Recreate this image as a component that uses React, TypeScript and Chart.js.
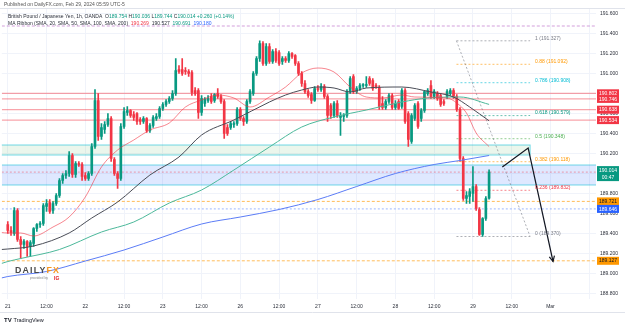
import React, { useEffect, useRef } from 'react';
import { Chart, registerables } from 'chart.js';

Chart.register(...registerables);

const FONT = '"Liberation Sans", Arial, sans-serif';
const UP = '#089981';
const DOWN = '#f23645';
const TEXT = '#2a2e39';
const GRID = '#f0f3fa';

// Hourly candles, bar index 0 = Feb 21 00:00 (weekend gap removed)
const opens = [
  189.49, 189.43, 189.40, 189.63, 189.34, 189.29, 189.32, 189.27, 189.30, 189.45,
  189.49, 189.50, 189.67, 189.71, 189.63, 189.70, 189.78, 189.93, 189.98, 190.00,
  190.18, 189.99, 190.10, 190.09, 189.98, 189.95, 190.00, 190.27, 190.73, 190.37,
  190.44, 190.49, 190.55, 190.14, 190.00, 189.95, 190.47, 190.61, 190.63, 190.59,
  190.60, 190.54, 190.52, 190.55, 190.43, 190.48, 190.55, 190.57, 190.65, 190.69,
  190.72, 190.75, 190.80, 191.04, 191.04, 191.03, 191.02, 191.01, 190.83, 190.83,
  190.61, 190.70, 190.73, 190.77, 190.73, 190.80, 190.77, 190.72, 190.46, 190.46,
  190.49, 190.50, 190.64, 190.55, 190.52, 190.72, 190.80, 191.00, 191.15, 191.30,
  191.10, 191.27, 191.12, 191.22, 191.21, 191.12, 191.15, 191.13, 191.20, 191.18,
  191.10, 191.00, 190.90, 190.82, 190.79, 190.73, 190.85, 190.84, 190.87, 190.77,
  190.68, 190.58, 190.70, 190.56, 190.57, 190.58, 190.82, 190.97, 190.82, 190.85,
  190.88, 190.88, 190.95, 190.93, 190.88, 190.86, 190.70, 190.66, 190.72, 190.78,
  190.66, 190.72, 190.67, 190.83, 190.60, 190.32, 190.55, 190.70, 190.55, 190.63,
  190.80, 190.88, 190.77, 190.80, 190.78, 190.72, 190.77, 190.80, 190.83, 190.77,
  190.64, 190.15, 189.75, 189.77, 189.80, 189.87, 189.64, 189.39, 189.55, 189.754,
];
const highs = [
  189.52, 189.47, 189.66, 189.65, 189.37, 189.34, 189.33, 189.33, 189.46, 189.50,
  189.52, 189.70, 189.74, 189.74, 189.72, 189.80, 189.95, 190.00, 190.03, 190.22,
  190.20, 190.12, 190.12, 190.11, 190.01, 190.02, 190.30, 190.84, 190.80, 190.50,
  190.52, 190.60, 190.57, 190.16, 190.02, 190.50, 190.66, 190.67, 190.64, 190.62,
  190.61, 190.56, 190.57, 190.56, 190.50, 190.58, 190.60, 190.67, 190.71, 190.74,
  190.77, 190.83, 191.15, 191.08, 191.15, 191.06, 191.04, 191.03, 190.86, 190.85,
  190.78, 190.76, 190.78, 190.80, 190.80, 190.85, 190.79, 190.74, 190.49, 190.52,
  190.52, 190.66, 190.66, 190.57, 190.74, 190.84, 191.02, 191.17, 191.327, 191.32,
  191.30, 191.30, 191.24, 191.25, 191.23, 191.17, 191.17, 191.22, 191.21, 191.19,
  191.12, 191.02, 190.93, 190.84, 190.81, 190.87, 190.88, 190.90, 190.89, 190.79,
  190.70, 190.72, 190.73, 190.61, 190.60, 190.84, 190.97, 190.99, 190.87, 190.90,
  190.90, 190.97, 190.97, 190.95, 190.90, 190.88, 190.77, 190.74, 190.80, 190.80,
  190.73, 190.74, 190.85, 190.85, 190.62, 190.60, 190.70, 190.72, 190.65, 190.83,
  190.85, 190.93, 190.84, 190.82, 190.80, 190.74, 190.84, 190.85, 190.85, 190.79,
  190.66, 190.17, 189.82, 189.85, 190.07, 189.89, 189.66, 189.56, 189.77, 190.036,
];
const lows = [
  189.40, 189.38, 189.38, 189.32, 189.15, 189.25, 189.17, 189.17, 189.27, 189.42,
  189.46, 189.48, 189.62, 189.60, 189.60, 189.68, 189.76, 189.90, 189.95, 189.97,
  189.96, 189.96, 190.07, 189.93, 189.93, 189.93, 189.98, 190.25, 190.33, 190.34,
  190.40, 190.47, 190.12, 189.98, 189.85, 189.93, 190.45, 190.58, 190.56, 190.53,
  190.49, 190.49, 190.50, 190.41, 190.41, 190.46, 190.53, 190.55, 190.63, 190.67,
  190.70, 190.73, 190.78, 191.00, 190.98, 190.99, 190.97, 190.78, 190.78, 190.55,
  190.58, 190.67, 190.71, 190.70, 190.71, 190.75, 190.70, 190.35, 190.38, 190.44,
  190.46, 190.48, 190.53, 190.48, 190.50, 190.70, 190.78, 190.98, 191.12, 191.08,
  191.08, 191.10, 191.10, 191.11, 191.08, 191.09, 191.11, 191.11, 191.15, 191.08,
  190.98, 190.87, 190.80, 190.76, 190.70, 190.72, 190.82, 190.82, 190.75, 190.52,
  190.55, 190.56, 190.56, 190.38, 190.52, 190.56, 190.80, 190.80, 190.80, 190.83,
  190.86, 190.86, 190.88, 190.83, 190.85, 190.64, 190.64, 190.64, 190.70, 190.64,
  190.64, 190.64, 190.65, 190.50, 190.27, 190.30, 190.53, 190.45, 190.52, 190.61,
  190.78, 190.75, 190.75, 190.73, 190.67, 190.68, 190.75, 190.78, 190.75, 190.62,
  190.12, 189.73, 189.70, 189.70, 189.72, 189.63, 189.38, 189.37, 189.53, 189.744,
];
const closes = [
  189.43, 189.41, 189.63, 189.34, 189.29, 189.32, 189.27, 189.31, 189.45, 189.49,
  189.50, 189.68, 189.70, 189.62, 189.70, 189.78, 189.93, 189.98, 190.00, 190.18,
  189.99, 190.10, 190.09, 189.97, 189.95, 190.00, 190.27, 190.73, 190.37, 190.46,
  190.49, 190.55, 190.15, 190.00, 189.95, 190.47, 190.62, 190.63, 190.58, 190.56,
  190.52, 190.52, 190.55, 190.43, 190.48, 190.56, 190.57, 190.65, 190.69, 190.72,
  190.75, 190.80, 191.03, 191.02, 191.00, 191.02, 191.00, 190.81, 190.80, 190.61,
  190.75, 190.74, 190.75, 190.72, 190.79, 190.77, 190.72, 190.40, 190.40, 190.50,
  190.50, 190.64, 190.55, 190.52, 190.72, 190.82, 191.00, 191.15, 191.30, 191.10,
  191.27, 191.12, 191.22, 191.13, 191.10, 191.15, 191.13, 191.20, 191.17, 191.10,
  191.00, 190.90, 190.82, 190.78, 190.73, 190.85, 190.84, 190.87, 190.77, 190.58,
  190.58, 190.70, 190.58, 190.58, 190.58, 190.82, 190.95, 190.82, 190.85, 190.88,
  190.89, 190.89, 190.90, 190.85, 190.87, 190.67, 190.66, 190.72, 190.78, 190.66,
  190.70, 190.65, 190.83, 190.52, 190.34, 190.58, 190.68, 190.47, 190.63, 190.82,
  190.83, 190.77, 190.82, 190.75, 190.69, 190.70, 190.82, 190.83, 190.77, 190.64,
  190.15, 189.75, 189.78, 189.82, 189.87, 189.65, 189.39, 189.55, 189.75, 190.014,
];

// Moving averages (bar index, value)
const ma20Bars = [-2, 0, 4, 8, 14, 19, 24, 29, 34, 39, 44, 50, 55, 60, 65, 70, 75, 81, 86, 91, 96, 101, 106, 111, 116, 122, 126, 136, 139, 142, 145, 149];
const ma20 = [189.41, 189.405, 189.405, 189.375, 189.465, 189.565, 189.765, 190.065, 190.235, 190.335, 190.435, 190.505, 190.665, 190.735, 190.785, 190.755, 190.665, 190.765, 190.865, 191.005, 191.055, 191.015, 190.865, 190.765, 190.755, 190.785, 190.765, 190.755, 190.705, 190.605, 190.405, 190.269];
const ma50Bars = [-2, 0, 8, 19, 26, 34, 44, 53, 60, 70, 81, 86, 91, 96, 101, 106, 111, 122, 131, 138, 143, 149];
const ma50 = [189.24, 189.245, 189.275, 189.405, 189.555, 189.715, 189.985, 190.165, 190.385, 190.535, 190.715, 190.785, 190.835, 190.865, 190.855, 190.815, 190.855, 190.865, 190.815, 190.765, 190.665, 190.527];
const ma100Bars = [-2, 0, 4, 16, 29, 39, 50, 60, 70, 81, 91, 101, 111, 122, 130, 140, 149];
const ma100 = [189.10, 189.12, 189.15, 189.24, 189.415, 189.515, 189.705, 189.835, 190.035, 190.265, 190.465, 190.565, 190.635, 190.715, 190.755, 190.765, 190.691];
const ma200Bars = [-2, 0, 12, 24, 36, 48, 60, 72, 84, 96, 108, 120, 132, 140, 149];
const ma200 = [188.955, 188.97, 189.02, 189.125, 189.235, 189.365, 189.495, 189.565, 189.64, 189.74, 189.87, 190.0, 190.09, 190.13, 190.18];

// Time axis
const tickBars = [0, 12, 24, 36, 48, 60, 72, 84, 96, 108, 120, 132, 144, 156, 168];
const tickLabels = ['21', '12:00', '22', '12:00', '23', '12:00', '26', '12:00', '27', '12:00', '28', '12:00', '29', '12:00', 'Mar'];

// Drawn levels
const redLevels = [190.802, 190.746, 190.638, 190.534];
const greenZone = [190.185, 190.285];
const greenZoneEndBar = 161.7;
const blueZone = [189.885, 190.085];
const orangeLevels = [189.721, 189.127];
const blueLevel = 189.646;
const purpleLevel = 191.475;
const lastPrice = 190.014;

const fibRatios = ['1', '0.88', '0.786', '0.618', '0.5', '0.382', '0.236', '0'];
const fibPrices = [191.327, 191.092, 190.908, 190.579, 190.348, 190.118, 189.832, 189.37];
const fibColors = ['#787b86', '#ff9800', '#00bcd4', '#089981', '#4caf50', '#ff9800', '#f23645', '#787b86'];
const fibStartBar = 138.9;
const fibEndBar = 161.7;

const arrowBars = [153.1, 161.1, 168.8];
const arrowPrices = [190.065, 190.255, 189.12];

const X_MIN = -1.85;
const X_MAX = 182.1;
const Y_MIN = 188.745;
const Y_MAX = 191.645;

function withAlpha(hex: string, a: number) {
  const n = parseInt(hex.slice(1), 16);
  return `rgba(${(n >> 16) & 255},${(n >> 8) & 255},${n & 255},${a})`;
}

const annotationPlugin = {
  id: 'annotations',
  beforeDatasetsDraw(chart: any) {
    const { ctx, chartArea: a, scales } = chart;
    const X = (v: number) => scales.x.getPixelForValue(v);
    const Y = (v: number) => scales.y.getPixelForValue(v);
    const seg = (x0: number, y0: number, x1: number, y1: number) => {
      ctx.beginPath(); ctx.moveTo(x0, y0); ctx.lineTo(x1, y1); ctx.stroke();
    };
    ctx.save();
    ctx.beginPath();
    ctx.rect(a.left, a.top, a.right - a.left, a.bottom - a.top);
    ctx.clip();

    // blue zone
    const b0 = Y(blueZone[1]), b1 = Y(blueZone[0]);
    ctx.fillStyle = 'rgba(41,98,255,0.15)';
    ctx.fillRect(a.left, b0, a.right - a.left, b1 - b0);
    ctx.strokeStyle = 'rgba(0,188,212,0.55)';
    ctx.lineWidth = 1;
    seg(a.left, b0, a.right, b0);
    seg(a.left, b1, a.right, b1);

    // green zone
    const g0 = Y(greenZone[1]), g1 = Y(greenZone[0]), gx = X(greenZoneEndBar);
    ctx.fillStyle = 'rgba(76,175,80,0.11)';
    ctx.fillRect(a.left, g0, gx - a.left, g1 - g0);
    ctx.strokeStyle = 'rgba(0,188,212,0.55)';
    ctx.strokeRect(a.left - 2, g0, gx - a.left + 2, g1 - g0);

    // red horizontal levels
    ctx.strokeStyle = 'rgba(242,54,69,0.45)';
    ctx.lineWidth = 1.3;
    redLevels.forEach((p) => seg(a.left, Y(p), a.right, Y(p)));

    // dashed levels
    ctx.lineWidth = 1;
    ctx.setLineDash([3, 2]);
    ctx.strokeStyle = 'rgba(255,152,0,0.65)';
    orangeLevels.forEach((p) => seg(a.left, Y(p), a.right, Y(p)));
    ctx.strokeStyle = 'rgba(156,39,176,0.45)';
    seg(a.left, Y(purpleLevel), a.right, Y(purpleLevel));
    ctx.setLineDash([2, 2]);
    ctx.strokeStyle = 'rgba(41,98,255,0.45)';
    seg(a.left, Y(blueLevel), a.right, Y(blueLevel));
    ctx.strokeStyle = 'rgba(242,54,69,0.45)';
    seg(a.left, Y(lastPrice), a.right, Y(lastPrice));

    // fib levels
    const fx0 = X(fibStartBar), fx1 = X(fibEndBar);
    fibPrices.forEach((p, k) => {
      ctx.strokeStyle = withAlpha(fibColors[k], 0.6);
      seg(fx0, Y(p), fx1, Y(p));
    });
    ctx.strokeStyle = 'rgba(120,123,134,0.6)';
    seg(fx0, Y(fibPrices[0]), fx1, Y(fibPrices[fibPrices.length - 1]));
    ctx.setLineDash([]);
    ctx.restore();
  },
  afterDraw(chart: any) {
    const { ctx, chartArea: a, scales } = chart;
    const X = (v: number) => scales.x.getPixelForValue(v);
    const Y = (v: number) => scales.y.getPixelForValue(v);
    ctx.save();

    // arrow path
    ctx.strokeStyle = '#131722';
    ctx.lineWidth = 1.2;
    ctx.beginPath();
    arrowBars.forEach((b, k) => {
      const px = X(b), py = Y(arrowPrices[k]);
      if (k === 0) ctx.moveTo(px, py); else ctx.lineTo(px, py);
    });
    ctx.stroke();
    const n = arrowBars.length;
    const ex = X(arrowBars[n - 1]), ey = Y(arrowPrices[n - 1]);
    const sx = X(arrowBars[n - 2]), sy = Y(arrowPrices[n - 2]);
    const ang = Math.atan2(ey - sy, ex - sx);
    ctx.beginPath();
    ctx.moveTo(ex - 6 * Math.cos(ang - 0.45), ey - 6 * Math.sin(ang - 0.45));
    ctx.lineTo(ex, ey);
    ctx.lineTo(ex - 6 * Math.cos(ang + 0.45), ey - 6 * Math.sin(ang + 0.45));
    ctx.stroke();

    // fib labels
    ctx.font = `5px ${FONT}`;
    ctx.textAlign = 'left';
    ctx.textBaseline = 'middle';
    fibPrices.forEach((p, k) => {
      ctx.fillStyle = fibColors[k];
      ctx.fillText(`${fibRatios[k]} (${p.toFixed(3)})`, X(fibEndBar) + 5, Y(p) - 2.5);
    });

    // price tags on the axis
    const tag = (p: number, bg: string, fg: string) => {
      const py = Y(p);
      ctx.fillStyle = bg;
      ctx.fillRect(a.right + 1, py - 4, 22, 8);
      ctx.fillStyle = fg;
      ctx.textAlign = 'center';
      ctx.textBaseline = 'middle';
      ctx.fillText(p.toFixed(3), a.right + 12, py + 0.3);
    };
    ctx.font = `5px ${FONT}`;
    redLevels.forEach((p) => tag(p, DOWN, '#ffffff'));
    tag(orangeLevels[0], '#ff9800', '#131722');
    tag(blueLevel, '#2962ff', '#ffffff');
    tag(orangeLevels[1], '#ff9800', '#131722');
    const ly = Y(lastPrice);
    ctx.fillStyle = UP;
    ctx.fillRect(a.right + 1, ly - 6, 22, 15);
    ctx.fillStyle = '#ffffff';
    ctx.textAlign = 'center';
    ctx.fillText(lastPrice.toFixed(3), a.right + 12, ly - 1);
    ctx.fillText('00:47', a.right + 12, ly + 5.5);

    // header
    ctx.textAlign = 'left';
    ctx.textBaseline = 'middle';
    ctx.font = `5px ${FONT}`;
    ctx.fillStyle = '#555';
    ctx.fillText('Published on DailyFX.com, Feb 29, 2024 05:59 UTC-5', 4, 5);
    const segs = (x: number, y: number, parts: [string, string][]) => {
      parts.forEach(([t, c]) => { ctx.fillStyle = c; ctx.fillText(t, x, y); x += ctx.measureText(t).width; });
    };
    segs(8, 17, [
      ['British Pound / Japanese Yen, 1h, OANDA  O', TEXT], ['189.754', UP], [' H', TEXT], ['190.036', UP],
      [' L', TEXT], ['189.744', UP], [' C', TEXT], ['190.014', UP], [' +0.260 (+0.14%)', UP],
    ]);
    segs(8, 24, [
      ['MA Ribbon (SMA, 20, SMA, 50, SMA, 100, SMA, 200)  ', TEXT], ['190.269', DOWN], ['  ', TEXT],
      ['190.527', TEXT], ['  ', TEXT], ['190.691', UP], ['  ', TEXT], ['190.180', '#2962ff'],
    ]);

    // DailyFX logo
    ctx.save();
    ctx.font = `bold 9px ${FONT}`;
    ctx.textBaseline = 'alphabetic';
    (ctx as any).letterSpacing = '1.2px';
    const w1 = ctx.measureText('DAILY').width, w2 = ctx.measureText('FX').width;
    const sc = 45 / (w1 + w2);
    ctx.translate(15, 273);
    ctx.scale(sc, 1);
    ctx.fillStyle = '#4a4a4a';
    ctx.fillText('DAILY', 0, 0);
    ctx.fillStyle = '#f7941d';
    ctx.fillText('FX', w1, 0);
    ctx.restore();
    ctx.font = `3.5px ${FONT}`;
    ctx.fillStyle = '#888';
    ctx.textBaseline = 'middle';
    ctx.fillText('provided by', 30, 278.5);
    ctx.font = `bold 5px ${FONT}`;
    ctx.fillStyle = '#e3141d';
    ctx.fillText('IG', 54, 278.5);

    // footer
    ctx.strokeStyle = '#e0e3eb';
    ctx.lineWidth = 1;
    ctx.beginPath(); ctx.moveTo(0, 312.5); ctx.lineTo(625, 312.5); ctx.stroke();
    ctx.beginPath(); ctx.moveTo(0, 8.5); ctx.lineTo(625, 8.5); ctx.stroke();
    ctx.font = `bold 6px ${FONT}`;
    ctx.fillStyle = '#131722';
    ctx.fillText('TV', 4, 320);
    ctx.font = `5.5px ${FONT}`;
    ctx.fillText('TradingView', 13.5, 320);
    ctx.restore();
  },
};

export default function App() {
  const ref = useRef<HTMLCanvasElement>(null);
  useEffect(() => {
    const canvas = ref.current;
    if (!canvas) return;
    const idx = opens.map((_, i) => i);
    const colors = idx.map((i) => (closes[i] >= opens[i] ? UP : DOWN));
    const line = (bars: number[], vals: number[], color: string) => ({
      type: 'line' as const,
      data: bars.map((b, k) => ({ x: b, y: vals[k] })),
      borderColor: color,
      borderWidth: 1,
      pointRadius: 0,
      cubicInterpolationMode: 'monotone' as const,
      order: 0,
    });
    const chart = new Chart(canvas, {
      type: 'bar',
      data: {
        datasets: [
          line(ma20Bars, ma20, 'rgba(242,54,69,0.6)'),
          line(ma50Bars, ma50, '#4a4d57'),
          line(ma100Bars, ma100, '#4cb89a'),
          line(ma200Bars, ma200, '#5b7cf6'),
          {
            type: 'bar',
            data: idx.map((i) => ({ x: i, y: [lows[i], highs[i]] })),
            backgroundColor: colors,
            barThickness: 1,
            grouped: false,
            order: 2,
          } as any,
          {
            type: 'bar',
            data: idx.map((i) => ({ x: i, y: [opens[i], closes[i]] })),
            backgroundColor: colors,
            barThickness: 2,
            minBarLength: 1,
            grouped: false,
            order: 1,
          } as any,
        ],
      },
      options: {
        responsive: false,
        maintainAspectRatio: false,
        devicePixelRatio: 1,
        animation: false,
        events: [],
        layout: { padding: { top: 9, left: 0, right: 0, bottom: 0 } },
        plugins: { legend: { display: false }, tooltip: { enabled: false } },
        scales: {
          x: {
            type: 'linear',
            min: X_MIN,
            max: X_MAX,
            offset: false,
            grid: { color: GRID, drawTicks: false, offset: false },
            border: { display: false },
            ticks: {
              stepSize: 12,
              autoSkip: false,
              maxRotation: 0,
              includeBounds: false,
              padding: 5,
              color: TEXT,
              font: { size: 5, family: FONT },
              callback: (v: any) => {
                const k = tickBars.indexOf(Number(v));
                return k >= 0 ? tickLabels[k] : '';
              },
            },
            afterFit: (s: any) => { s.height = 28; },
          },
          y: {
            type: 'linear',
            position: 'right',
            min: Y_MIN,
            max: Y_MAX,
            grid: { color: GRID, drawTicks: false },
            border: { display: false },
            ticks: {
              stepSize: 0.2,
              includeBounds: false,
              padding: 4,
              color: TEXT,
              font: { size: 5, family: FONT },
              callback: (v: any) => Number(v).toFixed(3),
            },
            afterFit: (s: any) => { s.width = 29; },
          },
        },
      } as any,
      plugins: [annotationPlugin],
    });
    return () => chart.destroy();
  }, []);
  return (
    <div style={{ position: 'fixed', left: 0, top: 0, width: 625, height: 327, background: '#fff' }}>
      <canvas ref={ref} width={625} height={327} style={{ display: 'block' }} />
    </div>
  );
}
